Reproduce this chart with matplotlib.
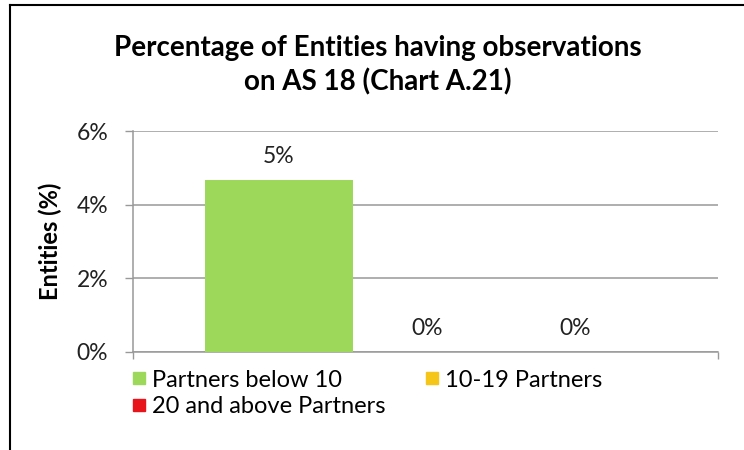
import matplotlib.pyplot as plt
import numpy as np
from matplotlib.lines import Line2D

# Data
series = ['Partners below 10', '10-19 Partners', '20 and above Partners']
values = [4.67, 0.0, 0.0]
value_labels = ['5%', '0%', '0%']
colors = ['#9ED85A', '#F5C518', '#E8141B']
yticks = [0, 2, 4, 6]

plt.rcParams['font.family'] = ['Lato', 'DejaVu Sans']

fig = plt.figure(figsize=(7.44, 4.5), dpi=100)
ax = fig.add_axes([133 / 744, 1 - 352 / 450, 585 / 744, 221 / 450])

# one category, three series bars side by side
bar_w = 148 / 585
start = 72 / 585
x = start + bar_w * (np.arange(len(series)) + 0.5)
ax.bar(x, values, width=bar_w, color=colors, edgecolor='none', zorder=3)
for bx, v, lab in zip(x, values, value_labels):
    ax.text(bx, v + 0.34, lab, ha='center', va='bottom', fontsize=16.5, color='#222222')

ax.set_xlim(0, 1)
ax.set_ylim(0, 6)
ax.set_yticks(yticks)
ax.set_yticklabels([f'{t}%' for t in yticks], fontsize=16.5, color='#222222')
ax.tick_params(axis='y', length=6, width=1, color='#999999', pad=12)
ax.set_xticks([0, 1])
ax.set_xticklabels(['', ''])
ax.tick_params(axis='x', length=5, width=1, color='#999999', direction='out')
ax.grid(axis='y', color='#999999', linewidth=1.1, zorder=0)
for s in ['top', 'right']:
    ax.spines[s].set_visible(False)
for s in ['left', 'bottom']:
    ax.spines[s].set_color('#999999')
    ax.spines[s].set_linewidth(1.1)

ax.set_ylabel('Entities (%)', fontsize=17, fontweight='bold', labelpad=10)

fig.text(378 / 744, 1 - 48 / 450, 'Percentage of Entities having observations',
         ha='center', va='center', fontsize=20, fontweight='bold')
fig.text(378 / 744, 1 - 82 / 450, 'on AS 18 (Chart A.21)',
         ha='center', va='center', fontsize=20, fontweight='bold')

# legend, reordered so that it fills row by row like the original
order = [0, 2, 1]
handles = [Line2D([], [], marker='s', linestyle='none', markersize=8.5,
                  markerfacecolor=colors[i], markeredgecolor=colors[i]) for i in order]
labels = [series[i] for i in order]
fig.legend(handles, labels, loc='upper left', ncol=2,
           bbox_to_anchor=(112 / 744, 1 - 353 / 450), frameon=False,
           fontsize=17, handletextpad=0.1, columnspacing=1.5,
           labelspacing=0.25, handlelength=0.9, borderpad=0.2)

# outer frame lines (top and left)
fig.add_artist(Line2D([10 / 744, 1], [1 - 5 / 450, 1 - 5 / 450], color='black', linewidth=1.5))
fig.add_artist(Line2D([10 / 744, 10 / 744], [0, 1 - 5 / 450], color='black', linewidth=1.5))

fig.savefig('out.png', dpi=100)
